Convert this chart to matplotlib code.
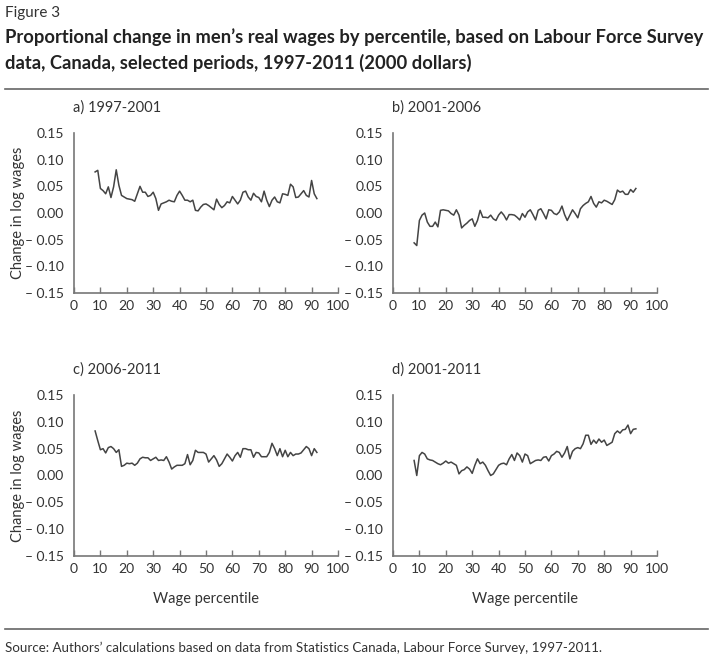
import matplotlib
matplotlib.use('Agg')
import matplotlib.pyplot as plt
import numpy as np

plt.rcParams['font.family'] = ['Lato', 'DejaVu Sans']

pct = list(range(8, 93))

# a) 1997-2001
a_vals = [0.077, 0.080, 0.046, 0.042, 0.036, 0.049, 0.029, 0.049, 0.081, 0.052,
          0.033, 0.030, 0.027, 0.026, 0.025, 0.022, 0.036, 0.050, 0.039, 0.039,
          0.031, 0.033, 0.039, 0.027, 0.005, 0.017, 0.019, 0.021, 0.024, 0.022,
          0.021, 0.033, 0.041, 0.033, 0.024, 0.024, 0.021, 0.024, 0.005, 0.004,
          0.011, 0.016, 0.017, 0.014, 0.010, 0.006, 0.026, 0.016, 0.010, 0.014,
          0.021, 0.019, 0.031, 0.024, 0.017, 0.024, 0.039, 0.041, 0.030, 0.024,
          0.037, 0.031, 0.029, 0.021, 0.041, 0.024, 0.012, 0.024, 0.030, 0.021,
          0.019, 0.036, 0.035, 0.033, 0.054, 0.049, 0.029, 0.030, 0.036, 0.042,
          0.033, 0.030, 0.061, 0.036, 0.027]

# b) 2001-2006
b_vals = [-0.056, -0.061, -0.014, -0.004, 0.000, -0.017, -0.025, -0.025, -0.017, -0.026,
          0.005, 0.006, 0.005, 0.004, -0.001, -0.004, 0.006, -0.004, -0.028, -0.023,
          -0.019, -0.014, -0.011, -0.025, -0.014, 0.005, -0.008, -0.008, -0.009, -0.004,
          -0.011, -0.014, -0.004, 0.002, -0.004, -0.013, -0.003, -0.003, -0.004, -0.008,
          -0.013, -0.001, -0.008, 0.002, 0.006, -0.003, -0.013, 0.005, 0.008, -0.001,
          -0.011, 0.006, 0.005, -0.001, -0.003, 0.002, 0.013, -0.003, -0.014, -0.004,
          0.006, -0.001, -0.009, 0.008, 0.014, 0.018, 0.021, 0.031, 0.018, 0.011,
          0.021, 0.019, 0.024, 0.022, 0.019, 0.016, 0.025, 0.043, 0.039, 0.041,
          0.035, 0.035, 0.044, 0.039, 0.046]

# c) 2006-2011
c_vals = [0.083, 0.065, 0.048, 0.050, 0.042, 0.052, 0.054, 0.050, 0.043, 0.048,
          0.017, 0.019, 0.023, 0.022, 0.023, 0.019, 0.023, 0.031, 0.034, 0.033,
          0.033, 0.028, 0.031, 0.034, 0.028, 0.029, 0.028, 0.035, 0.025, 0.012,
          0.016, 0.019, 0.019, 0.019, 0.022, 0.039, 0.020, 0.028, 0.047, 0.043,
          0.043, 0.043, 0.040, 0.025, 0.031, 0.037, 0.029, 0.017, 0.022, 0.031,
          0.040, 0.034, 0.027, 0.037, 0.043, 0.034, 0.050, 0.050, 0.048, 0.048,
          0.034, 0.043, 0.042, 0.035, 0.035, 0.035, 0.043, 0.060, 0.050, 0.037,
          0.050, 0.035, 0.047, 0.035, 0.043, 0.037, 0.040, 0.040, 0.042, 0.048,
          0.054, 0.050, 0.037, 0.050, 0.043]

# d) 2001-2011
d_vals = [0.028, 0.000, 0.037, 0.043, 0.040, 0.031, 0.029, 0.028, 0.025, 0.022,
          0.020, 0.023, 0.027, 0.023, 0.025, 0.022, 0.019, 0.003, 0.009, 0.011,
          0.016, 0.012, 0.004, 0.019, 0.031, 0.022, 0.025, 0.019, 0.009, 0.000,
          0.003, 0.011, 0.019, 0.022, 0.023, 0.020, 0.031, 0.039, 0.028, 0.042,
          0.037, 0.025, 0.040, 0.037, 0.022, 0.025, 0.028, 0.029, 0.028, 0.034,
          0.035, 0.027, 0.037, 0.040, 0.045, 0.043, 0.034, 0.042, 0.054, 0.031,
          0.045, 0.050, 0.052, 0.050, 0.059, 0.075, 0.075, 0.058, 0.066, 0.060,
          0.068, 0.062, 0.066, 0.056, 0.059, 0.062, 0.078, 0.083, 0.079, 0.085,
          0.086, 0.094, 0.078, 0.086, 0.087]

panel_titles = ['a) 1997-2001', 'b) 2001-2006', 'c) 2006-2011', 'd) 2001-2011']
series = [a_vals, b_vals, c_vals, d_vals]
yticks = [-0.15, -0.10, -0.05, 0.00, 0.05, 0.10, 0.15]
ytick_labels = ['\u2013 0.15', '\u2013 0.10', '\u2013 0.05', '0.00', '0.05', '0.10', '0.15']
xticks = list(range(0, 101, 10))

W, H = 720, 661
text_c = '#333333'
line_c = '#444444'
spine_c = '#777777'

fig = plt.figure(figsize=(W / 100, H / 100), dpi=100)

# axes boxes in pixels: (left, top, width, height)
boxes = [(74, 133, 264, 160), (393, 133, 264, 160),
         (74, 395, 264, 161), (393, 395, 264, 161)]

for i, (box, vals, title) in enumerate(zip(boxes, series, panel_titles)):
    l, t, w, h = box
    ax = fig.add_axes([l / W, 1 - (t + h) / H, w / W, h / H])
    ax.plot(pct, vals, color=line_c, lw=1.1)
    ax.set_xlim(0, 100)
    ax.set_ylim(-0.15, 0.15)
    ax.set_xticks(xticks)
    ax.set_yticks(yticks)
    ax.set_yticklabels(ytick_labels)
    for s in ['top', 'right']:
        ax.spines[s].set_visible(False)
    for s in ['left', 'bottom']:
        ax.spines[s].set_color(spine_c)
        ax.spines[s].set_linewidth(1.2)
    ax.tick_params(axis='x', direction='in', length=4, width=1, color=spine_c,
                   labelsize=10, labelcolor=text_c, pad=5)
    ax.tick_params(axis='y', length=0, labelsize=10, labelcolor=text_c, pad=7)
    fig.text((l - 1) / W, 1 - (t - 25) / H, title, fontsize=10.5, color=text_c,
             ha='left', va='center')
    if i % 2 == 0:
        ax.set_ylabel('Change in log wages', fontsize=10.5, color=text_c)
        ax.yaxis.set_label_coords((25 - l) / w, 0.5)
    if i >= 2:
        ax.set_xlabel('Wage percentile', fontsize=10.5, color=text_c, labelpad=12)

fig.text(5 / W, 1 - 13 / H, 'Figure 3', fontsize=11, color=text_c, ha='left', va='center')
fig.text(5 / W, 1 - 37 / H,
         'Proportional change in men\u2019s real wages by percentile, based on Labour Force Survey',
         fontsize=13.2, fontweight='bold', color='#222222', ha='left', va='center')
fig.text(5 / W, 1 - 63 / H,
         'data, Canada, selected periods, 1997-2011 (2000 dollars)',
         fontsize=13.2, fontweight='bold', color='#222222', ha='left', va='center')
fig.text(5 / W, 1 - 648 / H,
         'Source: Authors\u2019 calculations based on data from Statistics Canada, Labour Force Survey, 1997-2011.',
         fontsize=9.6, color=text_c, ha='left', va='center')
fig.add_artist(plt.Line2D([5 / W, 708 / W], [1 - 89 / H, 1 - 89 / H], color='#666666', lw=1.2))
fig.add_artist(plt.Line2D([5 / W, 708 / W], [1 - 629 / H, 1 - 629 / H], color='#666666', lw=1.2))

fig.savefig('out.png', dpi=100, facecolor='white')
